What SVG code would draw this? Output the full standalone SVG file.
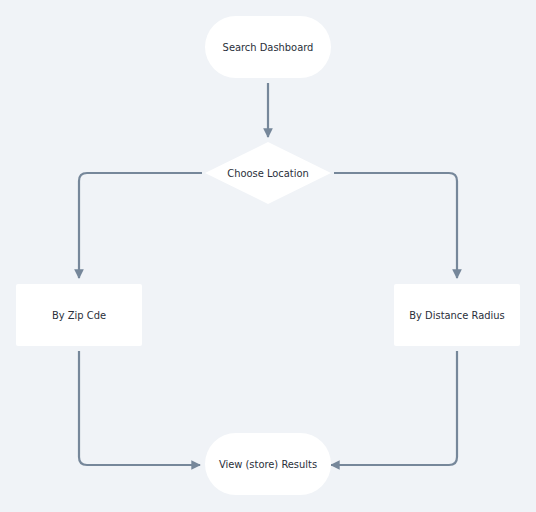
<svg xmlns="http://www.w3.org/2000/svg" width="536" height="512" viewBox="0 0 536 512">
<defs>
<style>
.node{fill:#ffffff}
.lbl{font-family:"DejaVu Sans Condensed","Liberation Sans",sans-serif;font-size:11px;fill:#2a2f3a;text-anchor:middle;dominant-baseline:central}
.edge{fill:none;stroke:#76879a;stroke-width:2.2;stroke-linejoin:round}
</style>
<marker id="arr" viewBox="0 0 10 10" refX="9" refY="5" markerWidth="4.4" markerHeight="4.4" orient="auto" markerUnits="strokeWidth">
<path d="M0,0 L10,5 L0,10 z" fill="#76879a"/>
</marker>
</defs>
<rect width="536" height="512" fill="#f0f3f7"/>
<g id="connectors">
<path class="edge" d="M268,83 V137" marker-end="url(#arr)"/>
<path class="edge" d="M202,173 H87 Q79,173 79,181 V278" marker-end="url(#arr)"/>
<path class="edge" d="M334,173 H449 Q457,173 457,181 V278" marker-end="url(#arr)"/>
<path class="edge" d="M79,351 V457 Q79,465 87,465 H200" marker-end="url(#arr)"/>
<path class="edge" d="M457,351 V457 Q457,465 449,465 H331" marker-end="url(#arr)"/>
</g>
<g id="search-dashboard">
<rect class="node" x="205" y="16" width="126" height="62" rx="31"/>
<text class="lbl" x="268" y="47">Search Dashboard</text>
</g>
<g id="choose-location">
<polygon class="node" points="268,142 331,173 268,204 205,173"/>
<text class="lbl" x="268" y="173">Choose Location</text>
</g>
<g id="by-zip">
<rect class="node" x="16" y="284" width="126" height="62" rx="2"/>
<text class="lbl" x="79" y="315">By Zip Cde</text>
</g>
<g id="by-distance">
<rect class="node" x="394" y="284" width="126" height="62" rx="2"/>
<text class="lbl" x="457" y="315">By Distance Radius</text>
</g>
<g id="view-results">
<rect class="node" x="205" y="433" width="126" height="62" rx="31"/>
<text class="lbl" x="268" y="464">View (store) Results</text>
</g>
</svg>
